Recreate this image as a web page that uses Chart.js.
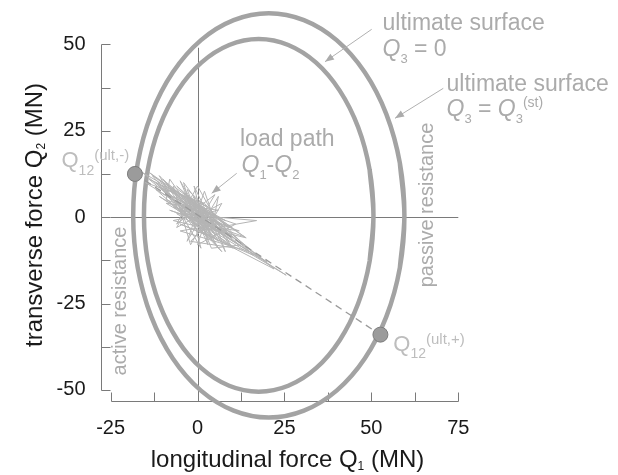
<!DOCTYPE html>
<html>
<head>
<meta charset="utf-8">
<script src="https://cdn.jsdelivr.net/npm/chart.js@4.4.1/dist/chart.umd.min.js"></script>
<style>
  html, body { margin: 0; padding: 0; background: #fff; }
  #wrap { width: 618px; height: 475px; }
</style>
</head>
<body>
<div id="wrap"><canvas id="grafico" width="618" height="475"></canvas></div>
<script>
// datos (MN)
const xMajor = [-25, 0, 25, 50, 75]; // etiquetas eje Q1
const yMajor = [-50, -25, 0, 25, 50]; // etiquetas eje Q2
const xMarks = [-25, -12.5, 0, 12.5, 25, 37.5, 50, 62.5, 75]; // marcas eje Q1
const yMarks = [-50, -37.5, -25, -12.5, 0, 12.5, 25, 37.5, 50]; // marcas eje Q2

// superficie última Q3 = Q3(st) (exterior)
const outerQ1 = [59.5, 58.2, 54.3, 48.1, 40.0, 30.6, 20.5, 10.4, 1.0, -7.1, -13.3, -17.2, -18.5, -17.2, -13.3, -7.1, 1.0, 10.4, 20.5, 30.6, 40.0, 48.1, 54.3, 58.2];
const outerQ2 = [0.5, 15.6, 29.8, 41.9, 51.2, 57.0, 59.0, 57.0, 51.2, 41.9, 29.8, 15.6, 0.5, -14.6, -28.8, -40.9, -50.2, -56.0, -58.0, -56.0, -50.2, -40.9, -28.8, -14.6];
// superficie última Q3 = 0 (interior)
const innerQ1 = [50.6, 49.5, 46.2, 40.9, 34.1, 26.1, 17.6, 9.1, 1.1, -5.7, -11.0, -14.3, -15.4, -14.3, -11.0, -5.7, 1.1, 9.1, 17.6, 26.1, 34.1, 40.9, 46.2, 49.5];
const innerQ2 = [0.5, 13.7, 26.0, 36.6, 44.7, 49.8, 51.5, 49.8, 44.7, 36.6, 26.0, 13.7, 0.5, -12.7, -25.0, -35.6, -43.7, -48.8, -50.5, -48.8, -43.7, -35.6, -25.0, -12.7];

// trayectoria de carga Q1-Q2
const loadQ1 = [0, -4, 3, -6, 5, -2, 8, -9, 2, -5, 10, -3, 4, -12, 1, 6, -7, 12, -1, -10, 7, -5, 15, -2, 3, -14, 9, -6, 17, 0, -8, 5, -2, 11, -11, 2, 20, -5, 8, -16, 4, -1, 14, -7, 6, -9, 25.5, -2, 10, -13, 3, -4, 13.5, -8, 1, 18, -6, 7, -12, -3, 9, -15, 2, 16, -5, 5, -10, 0, 12, -7, 4, 22, -1, -11, 7, -4, 6, -14, 3, 0, 11, -9,
    -8, 6, -5, 3, -1, 8, 2, -3, 5, -6, 0, 10, -4, 1, -11, 4, 6, -2, -7, 9, -3, 4, 13, -9, 2, 7, -6, -1, 0];
const loadQ2 = [0, 4, -1, 6, -4, 3, -3, 7, 1, 2, -6, 6, -5, 10, 2, -7, 3, -4, -2, 9, -2, -4, -10, 5, 3, 11, -8, 1, -1, -4, 8, 0, -7, -9, 6, -2, -13, 5, -1, 13, -3, 4, -6, -1, 2, 4, -16.8, 1, -3, 12, -6, 7, -5.7, 2, -1, -12, 9, -4, 8, 0, -5, 10, 4, -11, -2, -6, 11, 2, -8, 5, 0, -15, -3, 9, -10, 3, -3, 13, 1, -8, -2, 5,
    11, -9, 10.5, -8, 9, -10, 7.5, -7, 6.5, -2, 9, -9, 10, -9, 12, -4, 6, -8, 9, -3, 8, -9, -8, 10, -5, 4, -3, 6, 0];

// puntos Q12(ult,-) y Q12(ult,+)
const ultQ1 = [-18.0, 52.6];
const ultQ2 = [12.5, -34.0];

const fuente = '"Liberation Sans", Arial, Helvetica, sans-serif';

const aPuntos = (xs, ys) => xs.map((v, i) => ({ x: v, y: ys[i] }));
// cierra la curva repitiendo los vecinos del punto inicial
const cerrar = (xs, ys) => {
    const p = aPuntos(xs, ys);
    return [p[p.length - 1], ...p, p[0], p[1]];
};

// texto con subíndices / superíndices
function rico(ctx, x, y, partes, size, align) {
    const medir = p => {
        ctx.font = (p.i ? 'italic ' : '') + (p.s || size) + 'px ' + fuente;
        return ctx.measureText(p.t).width;
    };
    let total = 0;
    partes.forEach(p => total += medir(p));
    let cx = align === 'center' ? x - total / 2 : x;
    partes.forEach(p => {
        const w = medir(p);
        ctx.fillText(p.t, cx, y + (p.dy || 0));
        cx += w;
    });
}

function flecha(ctx, x1, y1, x2, y2) {
    ctx.beginPath();
    ctx.moveTo(x1, y1);
    ctx.lineTo(x2, y2);
    ctx.stroke();
    const ang = Math.atan2(y2 - y1, x2 - x1), L = 9, W = 3.5;
    ctx.beginPath();
    ctx.moveTo(x2, y2);
    ctx.lineTo(x2 - L * Math.cos(ang) + W * Math.sin(ang), y2 - L * Math.sin(ang) - W * Math.cos(ang));
    ctx.lineTo(x2 - L * Math.cos(ang) - W * Math.sin(ang), y2 - L * Math.sin(ang) + W * Math.cos(ang));
    ctx.closePath();
    ctx.fill();
}

const decor = {
    id: 'decor',
    beforeDatasetsDraw(chart) {
        const { ctx, chartArea, scales: { x, y } } = chart;
        ctx.save();
        ctx.strokeStyle = '#7a7a7a';
        ctx.lineWidth = 1;
        const ax = Math.round(chartArea.left) + 0.5;
        const ay = Math.round(chartArea.bottom) + 0.5;
        ctx.beginPath();
        // eje vertical con marcas hacia dentro
        ctx.moveTo(ax, Math.round(y.getPixelForValue(yMarks[0])) + 0.5);
        ctx.lineTo(ax, Math.round(y.getPixelForValue(yMarks[yMarks.length - 1])) + 0.5);
        yMarks.forEach(v => {
            const py = Math.round(y.getPixelForValue(v)) + 0.5;
            ctx.moveTo(ax, py);
            ctx.lineTo(ax + 9, py);
        });
        // eje horizontal
        ctx.moveTo(Math.round(x.getPixelForValue(xMarks[0])) + 0.5, ay);
        ctx.lineTo(Math.round(x.getPixelForValue(xMarks[xMarks.length - 1])) + 0.5, ay);
        xMarks.forEach(v => {
            const px = Math.round(x.getPixelForValue(v)) + 0.5;
            ctx.moveTo(px, ay);
            ctx.lineTo(px, ay - 9);
        });
        // líneas de cero
        const x0 = Math.round(x.getPixelForValue(0)) + 0.5;
        const y0 = Math.round(y.getPixelForValue(0)) + 0.5;
        ctx.moveTo(x0, ay);
        ctx.lineTo(x0, y.getPixelForValue(49));
        ctx.moveTo(x.getPixelForValue(-25), y0);
        ctx.lineTo(x.getPixelForValue(75), y0);
        ctx.stroke();
        ctx.restore();
    },
    afterDraw(chart) {
        const { ctx } = chart;
        ctx.save();
        ctx.textAlign = 'left';
        ctx.textBaseline = 'alphabetic';

        // títulos de ejes
        ctx.fillStyle = '#1a1a1a';
        rico(ctx, 287.5, 466.5, [{ t: 'longitudinal force Q' }, { t: '1', s: 12, dy: 3 }, { t: ' (MN)' }], 24, 'center');
        ctx.save();
        ctx.translate(42, 215);
        ctx.rotate(-Math.PI / 2);
        rico(ctx, 0, 0, [{ t: 'transverse force Q' }, { t: '2', s: 12, dy: 3 }, { t: ' (MN)' }], 24, 'center');
        ctx.restore();

        // anotaciones
        ctx.fillStyle = '#ababab';
        ctx.strokeStyle = '#b0b0b0';
        ctx.lineWidth = 1;
        rico(ctx, 382.5, 30, [{ t: 'ultimate surface' }], 23);
        rico(ctx, 382.5, 56, [{ t: 'Q', i: 1 }, { t: '3', s: 13, dy: 7 }, { t: ' = 0' }], 23);
        rico(ctx, 446.5, 91, [{ t: 'ultimate surface' }], 23);
        rico(ctx, 446.5, 116, [{ t: 'Q', i: 1 }, { t: '3', s: 13, dy: 7 }, { t: ' = ' }, { t: 'Q', i: 1 }, { t: '3', s: 13, dy: 7 }, { t: '(st)', s: 14, dy: -9 }], 23);
        rico(ctx, 240, 145.5, [{ t: 'load path' }], 23);
        rico(ctx, 241.5, 172, [{ t: 'Q', i: 1 }, { t: '1', s: 13, dy: 7 }, { t: '-' }, { t: 'Q', i: 1 }, { t: '2', s: 13, dy: 7 }], 23);
        flecha(ctx, 371.7, 29.3, 325, 61.7);
        flecha(ctx, 443.3, 88.3, 395, 118.3);
        flecha(ctx, 236.7, 173.3, 211.7, 193.3);

        ctx.font = '20px ' + fuente;
        ctx.save();
        ctx.translate(126, 301);
        ctx.rotate(-Math.PI / 2);
        ctx.textAlign = 'center';
        ctx.fillText('active resistance', 0, 0);
        ctx.restore();
        ctx.save();
        ctx.translate(433, 205);
        ctx.rotate(-Math.PI / 2);
        ctx.textAlign = 'center';
        ctx.fillText('passive resistance', 0, 0);
        ctx.restore();

        ctx.fillStyle = '#bdbdbd';
        rico(ctx, 61.5, 167, [{ t: 'Q' }, { t: '12', s: 14, dy: 8 }, { t: '(ult,-)', s: 15, dy: -7 }], 22);
        rico(ctx, 393.3, 351, [{ t: 'Q' }, { t: '12', s: 14, dy: 7 }, { t: '(ult,+)', s: 15, dy: -7 }], 22);
        ctx.restore();
    }
};

const ctx = document.getElementById('grafico').getContext('2d');

new Chart(ctx, {
    type: 'scatter',
    data: {
        datasets: [
            {
                label: 'Q12 ult',
                data: aPuntos(ultQ1, ultQ2),
                pointRadius: 7.5,
                pointBackgroundColor: '#9b9b9b',
                pointBorderColor: '#7d7d7d',
                pointBorderWidth: 1,
                clip: false
            },
            {
                label: 'recta',
                data: aPuntos(ultQ1, ultQ2),
                showLine: true,
                borderColor: '#9a9a9a',
                borderWidth: 1.3,
                borderDash: [7, 5],
                pointRadius: 0,
                clip: false
            },
            {
                label: 'load path',
                data: aPuntos(loadQ1, loadQ2),
                showLine: true,
                borderColor: '#b4b4b4',
                borderWidth: 1,
                pointRadius: 0,
                tension: 0
            },
            {
                label: 'Q3 = 0',
                data: cerrar(innerQ1, innerQ2),
                showLine: true,
                borderColor: '#a3a3a3',
                borderWidth: 4.5,
                pointRadius: 0,
                tension: 0.34,
                clip: false
            },
            {
                label: 'Q3 = Q3(st)',
                data: cerrar(outerQ1, outerQ2),
                showLine: true,
                borderColor: '#a3a3a3',
                borderWidth: 4.5,
                pointRadius: 0,
                tension: 0.34,
                clip: false
            }
        ]
    },
    options: {
        responsive: false,
        devicePixelRatio: 1,
        animation: false,
        layout: { padding: { top: 44.3, right: 159.7, bottom: 0, left: 0 } },
        elements: { line: { capBezierPoints: false } },
        plugins: { legend: { display: false }, tooltip: { enabled: false } },
        scales: {
            x: {
                type: 'linear',
                min: -27.9,
                max: 75,
                grid: { display: false, drawTicks: false },
                border: { display: false },
                afterBuildTicks: s => { s.ticks = xMarks.map(v => ({ value: v })); },
                afterFit: s => { s.height = 74; },
                ticks: {
                    callback: v => xMajor.includes(v) ? String(v) : '',
                    font: { family: fuente, size: 20 },
                    color: '#1a1a1a',
                    padding: 15,
                    maxRotation: 0,
                    autoSkip: false
                }
            },
            y: {
                type: 'linear',
                min: -53.2,
                max: 50,
                grid: { display: false, drawTicks: false },
                border: { display: false },
                afterBuildTicks: s => { s.ticks = yMarks.map(v => ({ value: v })); },
                afterFit: s => { s.width = 100.5; },
                ticks: {
                    callback: v => yMajor.includes(v) ? String(v) : '',
                    font: { family: fuente, size: 20 },
                    color: '#1a1a1a',
                    padding: 15,
                    autoSkip: false
                }
            }
        }
    },
    plugins: [decor]
});
</script>
</body>
</html>
